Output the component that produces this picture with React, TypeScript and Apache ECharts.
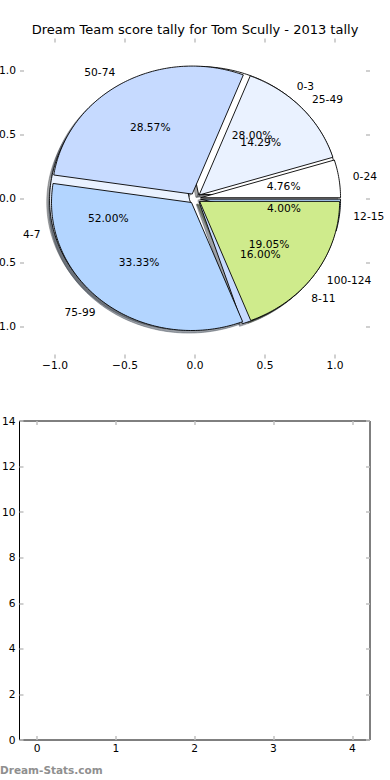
import React, { useEffect, useRef } from "react";
import * as echarts from "echarts";

// ---- data ----
const chartTitle = "Dream Team score tally for Tom Scully - 2013 tally";
const pie1Labels = ["0-24", "25-49", "50-74", "75-99", "100-124"];
const pie1Values = [1, 3, 6, 7, 4];
const pie2Labels = ["0-3", "4-7", "8-11", "12-15"];
const pie2Values = [7, 13, 4, 1];
const wedgeColors = ["#ffffff", "#eaf2ff", "#c6daff", "#b3d5ff", "#cfeb8c"];
const pieAxisTicks = [-1.0, -0.5, 0.0, 0.5, 1.0];
const emptyXTicks = [0, 1, 2, 3, 4];
const emptyYTicks = [0, 2, 4, 6, 8, 10, 12, 14];
const watermark = "Dream-Stats.com";

const EXPLODE = 0.04;
const LABEL_DIST = 1.1;
const PCT_DIST = 0.6;
const SHADOW_OFF = -0.02;
const FONT = '"DejaVu Sans", sans-serif';
const TICK_COLOR = "#c0c0c0";

type Wedge = { start: number; end: number; color: string; label: string; pct: string };

function buildWedges(values: number[], labels: string[]): Wedge[] {
  const total = values.reduce((a, b) => a + b, 0);
  let acc = 0;
  return values.map((v, i) => {
    const start = (acc / total) * 360;
    acc += v;
    const end = (acc / total) * 360;
    return {
      start,
      end,
      color: wedgeColors[i % wedgeColors.length],
      label: labels[i],
      pct: ((v / total) * 100).toFixed(2) + "%",
    };
  });
}

function shadowColor(hex: string): string {
  const r = parseInt(hex.slice(1, 3), 16);
  const g = parseInt(hex.slice(3, 5), 16);
  const b = parseInt(hex.slice(5, 7), 16);
  return `rgba(${Math.round(r * 0.3)},${Math.round(g * 0.3)},${Math.round(b * 0.3)},0.5)`;
}

function wedgePoints(api: any, s: number, e: number, dx: number, dy: number) {
  const m = ((s + e) / 2) * (Math.PI / 180);
  const cx = EXPLODE * Math.cos(m) + dx;
  const cy = EXPLODE * Math.sin(m) + dy;
  const pts: number[][] = [api.coord([cx, cy])];
  const n = Math.max(2, Math.ceil(e - s));
  for (let i = 0; i <= n; i++) {
    const a = (s + ((e - s) * i) / n) * (Math.PI / 180);
    pts.push(api.coord([cx + Math.cos(a), cy + Math.sin(a)]));
  }
  return pts;
}

function wedgeSeries(wedges: Wedge[], shadow: boolean, z: number) {
  return {
    type: "custom",
    coordinateSystem: "cartesian2d",
    xAxisIndex: 0,
    yAxisIndex: 0,
    clip: false,
    z,
    silent: true,
    data: wedges.map((w) => [w.start, w.end]),
    renderItem: (params: any, api: any) => {
      const w = wedges[params.dataIndex];
      const off = shadow ? SHADOW_OFF : 0;
      const pts = wedgePoints(api, api.value(0), api.value(1), off, off);
      const col = shadow ? shadowColor(w.color) : w.color;
      return {
        type: "polygon",
        shape: { points: pts },
        style: shadow
          ? { fill: col, stroke: col, lineWidth: 0.8 }
          : { fill: col, stroke: "#000", lineWidth: 0.9 },
      };
    },
  };
}

function textSeries(wedges: Wedge[], z: number) {
  const items: { x: number; y: number; text: string; align: string }[] = [];
  wedges.forEach((w) => {
    const m = ((w.start + w.end) / 2) * (Math.PI / 180);
    const lx = (EXPLODE + LABEL_DIST) * Math.cos(m);
    const ly = (EXPLODE + LABEL_DIST) * Math.sin(m);
    items.push({ x: lx, y: ly, text: w.label, align: lx > 0 ? "left" : "right" });
    items.push({
      x: (EXPLODE + PCT_DIST) * Math.cos(m),
      y: (EXPLODE + PCT_DIST) * Math.sin(m),
      text: w.pct,
      align: "center",
    });
  });
  return {
    type: "custom",
    coordinateSystem: "cartesian2d",
    xAxisIndex: 0,
    yAxisIndex: 0,
    clip: false,
    z,
    silent: true,
    data: items.map((it) => [it.x, it.y]),
    renderItem: (params: any, api: any) => {
      const it = items[params.dataIndex];
      const p = api.coord([api.value(0), api.value(1)]);
      return {
        type: "text",
        x: p[0],
        y: p[1],
        style: {
          text: it.text,
          fill: "#000",
          font: `10.67px ${FONT}`,
          align: it.align,
          verticalAlign: "middle",
        },
      };
    },
  };
}

const fmtPie = (v: number) => (v < 0 ? "\u2212" : "") + Math.abs(v).toFixed(1);

function tickAxis(grid: number, pos: string, min: number, max: number, ticks: number[], labels: boolean, fmt?: (v: number) => string, margin = 3) {
  return {
    type: "value",
    gridIndex: grid,
    position: pos,
    min,
    max,
    axisLine: { show: false, onZero: false },
    splitLine: { show: false },
    axisTick: {
      show: true,
      inside: true,
      length: 4,
      lineStyle: { color: TICK_COLOR, width: 1.5 },
      customValues: ticks,
    },
    axisLabel: labels
      ? {
          show: true,
          customValues: ticks,
          formatter: fmt ? fmt : (v: number) => String(v),
          margin,
          color: "#000",
          fontSize: 10.67,
          fontFamily: FONT,
        }
      : { show: false },
  };
}

export default function App() {
  const ref = useRef<HTMLDivElement>(null);
  useEffect(() => {
    if (!ref.current) return;
    const chart = echarts.init(ref.current, undefined, { renderer: "svg" });
    const w1 = buildWedges(pie1Values, pie1Labels);
    const w2 = buildWedges(pie2Values, pie2Labels);
    chart.setOption({
      animation: false,
      backgroundColor: "#fff",
      title: {
        text: chartTitle,
        left: "center",
        top: 23,
        padding: 0,
        textStyle: { fontSize: 13, fontWeight: "normal", color: "#000", fontFamily: FONT },
      },
      grid: [
        { left: 20, right: 20, top: 38.5, height: 320, show: false, containLabel: false, outerBoundsMode: "none" },
        { left: 19.5, right: 20, top: 421, height: 319, show: true, borderColor: "#000", borderWidth: 1, backgroundColor: "transparent", containLabel: false, outerBoundsMode: "none" },
      ],
      xAxis: [
        tickAxis(0, "bottom", -1.25, 1.25, pieAxisTicks, true, fmtPie, 1),
        tickAxis(0, "top", -1.25, 1.25, pieAxisTicks, false),
        tickAxis(1, "bottom", -0.225, 4.225, emptyXTicks, true, undefined, 3),
        tickAxis(1, "top", -0.225, 4.225, emptyXTicks, false),
      ],
      yAxis: [
        tickAxis(0, "left", -1.25, 1.25, pieAxisTicks, true, fmtPie, 4),
        tickAxis(0, "right", -1.25, 1.25, pieAxisTicks, false),
        tickAxis(1, "left", 0, 14, emptyYTicks, true, undefined, 4),
        tickAxis(1, "right", 0, 14, emptyYTicks, false),
      ],
      graphic: [
        {
          type: "text",
          x: 0,
          y: 770,
          style: {
            text: watermark,
            fill: "#8f8f8f",
            font: `bold 10.5px ${FONT}`,
            verticalAlign: "middle",
          },
        },
      ],
      series: [
        wedgeSeries(w2, true, 2),
        wedgeSeries(w1, true, 2),
        wedgeSeries(w2, false, 3),
        wedgeSeries(w1, false, 4),
        textSeries(w1, 5),
        textSeries(w2, 5),
      ],
    });
    return () => chart.dispose();
  }, []);
  return (
    <div
      ref={ref}
      style={{ position: "absolute", left: 0, top: 0, width: 390, height: 780 }}
    />
  );
}
